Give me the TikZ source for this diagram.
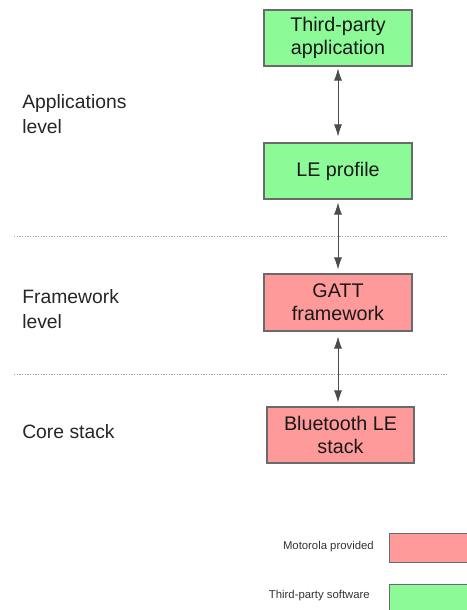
\documentclass[tikz,border=0pt]{standalone}
\usepackage{fontspec}
\setmainfont{Liberation Sans}
\usetikzlibrary{arrows.meta}
\definecolor{tpgreen}{HTML}{8CFA96}
\definecolor{mopink}{HTML}{FF9A9A}
\definecolor{edge}{HTML}{6A6A6A}
\begin{document}
\begin{tikzpicture}[x=0.75pt,y=-0.75pt,
  box/.style={draw=edge,line width=0.8pt,minimum width=111pt,minimum height=42pt,inner sep=0pt,align=center,font=\fontsize{14.8pt}{17.5pt}\selectfont,text=black!90},
  green/.style={box,fill=tpgreen},
  pink/.style={box,fill=mopink},
  lvl/.style={anchor=west,align=left,inner sep=0pt,font=\fontsize{14.5pt}{19pt}\selectfont,text=black!85},
  leg/.style={anchor=east,inner sep=0pt,font=\fontsize{8.5pt}{10pt}\selectfont,text=black!80},
  conn/.style={{Latex[length=9pt,width=6pt]}-{Latex[length=9pt,width=6pt]},draw=black!70,line width=0.6pt},
  sep/.style={draw=black!35,line width=0.6pt,dash pattern=on 1pt off 1pt}]
\useasboundingbox (0,0) rectangle (467,610);
\node[green] (app) at (338,38) {Third-party\\application};
\node[green] (le) at (338,171) {LE profile};
\node[pink,minimum height=42.75pt] (gatt) at (338,302.5) {GATT\\framework};
\node[pink,minimum width=110.25pt] (bt) at (340.5,435) {Bluetooth LE\\stack};
\draw[conn,shorten <=1.5pt,shorten >=4.5pt] (app.south) -- (le.north);
\draw[conn,shorten <=2.25pt,shorten >=3pt] (le.south) -- (gatt.north);
\draw[conn,shorten <=3.75pt,shorten >=3pt] (gatt.south) -- (gatt.south |- bt.north);
\coordinate (s1a) at (14,236.5);
\coordinate (s1b) at (448,236.5);
\coordinate (s2a) at (14,374);
\coordinate (s2b) at (448,374);
\draw[sep] (s1a) -- (s1b);
\draw[sep] (s2a) -- (s2b);
\node[lvl] (l1) at (22,114) {Applications\\level};
\node[lvl] (l2) at (22,309) {Framework\\level};
\node[lvl] (l3) at (22,432) {Core stack};
\node[leg] (legm) at (374,547) {Motorola provided};
\node[leg] (legt) at (370,596) {Third-party software};
\node[draw=edge,line width=0.8pt,fill=mopink,minimum width=59pt,minimum height=22pt,inner sep=0pt,anchor=north west] (bm) at (388.5,533) {};
\node[draw=edge,line width=0.8pt,fill=tpgreen,minimum width=59pt,minimum height=22pt,inner sep=0pt,anchor=north west] (bg) at (388.5,583.5) {};
\end{tikzpicture}
\end{document}
